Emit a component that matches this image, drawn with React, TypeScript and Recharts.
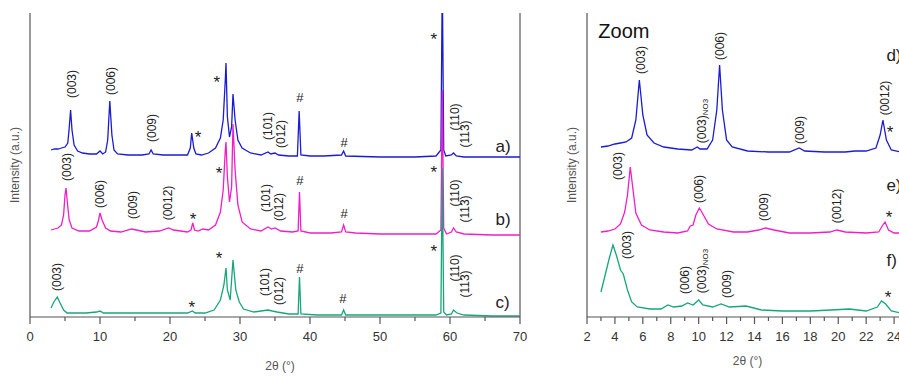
import { LineChart, Line, XAxis, YAxis, ReferenceLine, ReferenceDot } from 'recharts'

type Pt = [number, number]
type Tag = { x: number; y: number; text: string; sub?: string }

// 2θ (°) vs intensity (a.u., traces stacked by offset)
const scanA: Pt[] = [
  [3.0, 167], [3.5, 168], [4.0, 168], [4.5, 169], [5.0, 170], [5.4, 174], [5.6, 189], [5.8, 207], [6.0, 187],
  [6.3, 172], [6.8, 166], [7.5, 164], [8.5, 163], [9.5, 163], [10.0, 166], [10.4, 163], [10.8, 165], [11.1, 177],
  [11.4, 216], [11.7, 182], [12.0, 167], [12.5, 163], [14, 162], [16, 162], [17.0, 163], [17.3, 167], [17.6, 163],
  [19, 162], [21, 162], [22.5, 162], [22.9, 169], [23.1, 184], [23.4, 169], [23.7, 163], [24.5, 162], [25.5, 164],
  [26.5, 169], [27.2, 179], [27.6, 197], [27.9, 237], [28.0, 254], [28.2, 200], [28.5, 180], [28.8, 190], [29.0, 223],
  [29.3, 197], [29.7, 177], [30.3, 169], [31.5, 164], [33, 162], [34.0, 165], [34.4, 163], [35.0, 164], [35.5, 162],
  [37, 161], [38.2, 161], [38.45, 206], [38.7, 162], [40, 161], [42, 161], [44.5, 162], [44.8, 166], [45.1, 161],
  [50, 160], [55, 160], [58.0, 161], [58.7, 167], [58.9, 340], [59.1, 167], [59.4, 161], [60.2, 162], [60.5, 164],
  [60.9, 161], [62, 160], [66, 160], [70, 160],
]
const scanB: Pt[] = [
  [3.0, 87], [3.5, 88], [4.0, 89], [4.5, 92], [4.8, 102], [5.0, 122], [5.15, 129], [5.3, 117], [5.6, 97], [6.0, 89],
  [7, 86], [8.5, 86], [9.5, 90], [9.8, 97], [10.0, 104], [10.3, 97], [10.8, 89], [11.5, 86], [13, 85], [14.5, 88],
  [15.2, 87], [16.5, 85], [18.5, 86], [19.8, 89], [20.5, 87], [22.5, 85], [23.0, 87], [23.25, 94], [23.5, 87],
  [24.0, 86], [24.7, 88], [25.5, 87], [26.5, 92], [27.2, 105], [27.6, 127], [27.9, 167], [28.0, 175], [28.2, 140],
  [28.5, 115], [28.8, 130], [29.0, 193], [29.3, 147], [29.7, 112], [30.3, 95], [31.5, 88], [33, 86], [34.0, 90],
  [34.5, 88], [35.0, 89], [35.8, 86], [37.5, 85], [38.3, 86], [38.5, 125], [38.7, 86], [40, 84], [43, 84], [44.5, 85],
  [44.8, 92], [45.1, 85], [46.5, 84], [50, 83], [55, 83], [58.0, 83], [58.7, 87], [58.9, 227], [59.1, 89], [59.5, 83],
  [60.2, 85], [60.5, 89], [60.9, 85], [62, 83], [66, 82], [70, 82],
]
const scanC: Pt[] = [
  [3.0, 9], [3.4, 15], [3.9, 20], [4.3, 14], [4.8, 7], [5.3, 4], [6.5, 4], [8, 4], [9.5, 5], [10.0, 6], [10.5, 4],
  [12, 4], [15, 4], [18, 4], [20, 4], [22.5, 4], [23.2, 6], [23.6, 4], [25, 4], [26.3, 7], [27.2, 17], [27.7, 32],
  [28.0, 49], [28.2, 27], [28.6, 17], [29.0, 57], [29.4, 27], [29.9, 15], [30.5, 8], [32, 5], [34.0, 7], [34.6, 6],
  [35.3, 5], [37, 3], [38.3, 3], [38.5, 40], [38.7, 3], [41, 2], [44.5, 2], [44.8, 7], [45.1, 2], [50, 2], [55, 2],
  [58.0, 2], [58.7, 4], [58.9, 149], [59.1, 5], [59.5, 2], [60.2, 3], [60.5, 7], [61, 4], [62, 2], [66, 1], [70, 1],
]
const zoomD: Pt[] = [
  [3.0, 170], [3.5, 171], [4.0, 173], [4.4, 174], [4.8, 175], [5.2, 179], [5.5, 197], [5.75, 237], [6.0, 202],
  [6.3, 182], [6.8, 174], [7.5, 170], [8.5, 168], [9.5, 167], [9.9, 170], [10.1, 168], [10.6, 168], [11.0, 177],
  [11.3, 207], [11.5, 252], [11.7, 207], [12.0, 177], [12.4, 170], [13.5, 166], [15, 165], [16.5, 165], [17.2, 169],
  [17.6, 166], [19, 165], [20.5, 165], [21.2, 166], [22.0, 166], [22.7, 169], [23.0, 182], [23.2, 197], [23.45, 177],
  [23.8, 167], [24.5, 165], [26, 164],
]
const zoomE: Pt[] = [
  [3.0, 85], [3.5, 86], [4.0, 88], [4.4, 93], [4.7, 105], [4.9, 122], [5.1, 150], [5.3, 127], [5.5, 104], [5.9, 92],
  [6.5, 87], [7.5, 85], [8.5, 84], [9.2, 86], [9.4, 91], [9.6, 92], [9.8, 102], [10.05, 109], [10.3, 103], [10.7, 93],
  [11.3, 88], [12.5, 85], [13.5, 85], [14.3, 87], [14.8, 89], [15.4, 87], [16.5, 84], [18, 84], [19.4, 85], [19.9, 87],
  [20.5, 85], [22, 84], [22.9, 85], [23.15, 91], [23.35, 95], [23.6, 87], [24, 84], [26, 84],
]
const zoomF: Pt[] = [
  [3.0, 25], [3.3, 42], [3.6, 59], [3.86, 72], [4.1, 62], [4.4, 47], [4.6, 43], [4.9, 27], [5.2, 15], [5.6, 10],
  [6.5, 8], [7.3, 8], [7.8, 12], [8.2, 10], [8.8, 11], [9.2, 14], [9.6, 12], [10.0, 17], [10.3, 12], [11.0, 10],
  [11.6, 13], [12.2, 10], [13.4, 11], [14.5, 7], [16, 6], [18, 6], [19.5, 7], [20.8, 8], [22.0, 6], [22.8, 10],
  [23.1, 16], [23.4, 13], [23.8, 6], [24.5, 4], [26, 4],
]

const fullTicks = [0, 5, 10, 15, 20, 25, 30, 35, 40, 45, 50, 55, 60, 65, 70]
const fullTopTicks = [0, 2.5, 5, 7.5, 10, 12.5, 15, 17.5, 20, 22.5, 25, 27.5, 30, 32.5, 35, 37.5, 40, 42.5, 45, 47.5, 50, 52.5, 55, 57.5, 60, 62.5, 65, 67.5, 70]
const zoomTicks = [2, 3, 4, 5, 6, 7, 8, 9, 10, 11, 12, 13, 14, 15, 16, 17, 18, 19, 20, 21, 22, 23, 24, 25, 26]

// panel letters (a) ... f)) are given by their left edge, the rest by their centre
const fullTags: Tag[] = [
  { x: 6.0, y: 233, text: '(003)' }, { x: 11.57, y: 236, text: '(006)' }, { x: 17.43, y: 189, text: '(009)' },
  { x: 24.0, y: 184, text: '*' }, { x: 26.7, y: 239, text: '*' }, { x: 34.0, y: 191, text: '(101)' },
  { x: 35.86, y: 183, text: '(012)' }, { x: 38.57, y: 220, text: '#' }, { x: 44.86, y: 175, text: '#' },
  { x: 57.7, y: 282, text: '*' }, { x: 60.7, y: 200, text: '(110)' }, { x: 62.1, y: 183, text: '(113)' },
  { x: 66.5, y: 171, text: 'a)' },
  { x: 5.24, y: 150, text: '(003)' }, { x: 10.0, y: 123, text: '(006)' }, { x: 14.7, y: 112, text: '(009)' },
  { x: 19.7, y: 114, text: '(0012)' }, { x: 23.3, y: 102, text: '*' }, { x: 27.0, y: 148, text: '*' },
  { x: 33.7, y: 119, text: '(101)' }, { x: 35.6, y: 110, text: '(012)' }, { x: 38.57, y: 137, text: '#' },
  { x: 44.86, y: 104, text: '#' }, { x: 57.7, y: 149, text: '*' }, { x: 60.7, y: 124, text: '(110)' },
  { x: 62.1, y: 108, text: '(113)' }, { x: 66.5, y: 98, text: 'b)' },
  { x: 3.86, y: 40, text: '(003)' }, { x: 23.1, y: 14, text: '*' }, { x: 27.0, y: 63, text: '*' },
  { x: 33.6, y: 35, text: '(101)' }, { x: 35.6, y: 26, text: '(012)' }, { x: 38.57, y: 49, text: '#' },
  { x: 44.7, y: 19, text: '#' }, { x: 57.7, y: 70, text: '*' }, { x: 60.7, y: 49, text: '(110)' },
  { x: 62.1, y: 33, text: '(113)' }, { x: 66.5, y: 15, text: 'c)' },
]
const zoomTags: Tag[] = [
  { x: 2.81, y: 286, text: 'Zoom' },
  { x: 5.89, y: 257, text: '(003)' }, { x: 10.25, y: 196, text: '(003)', sub: 'NO3' }, { x: 11.55, y: 271, text: '(006)' },
  { x: 17.27, y: 187, text: '(009)' }, { x: 23.35, y: 219, text: '(0012)' }, { x: 23.71, y: 189, text: '*' },
  { x: 23.45, y: 262, text: 'd)' },
  { x: 4.24, y: 151, text: '(003)' }, { x: 10.04, y: 128, text: '(006)' }, { x: 14.7, y: 110, text: '(009)' },
  { x: 19.92, y: 111, text: '(0012)' }, { x: 23.64, y: 104, text: '*' }, { x: 23.45, y: 132, text: 'e)' },
  { x: 4.89, y: 72, text: '(003)' }, { x: 9.03, y: 37, text: '(006)' }, { x: 10.25, y: 46, text: '(003)', sub: 'NO3' },
  { x: 12.0, y: 33, text: '(009)' }, { x: 23.57, y: 24, text: '*' }, { x: 23.45, y: 57, text: 'f)' },
]

const BLUE = '#1b1bd2'
const PINK = '#ef1ec6'
const GREEN = '#17a67a'
const AXIS = '#555'
const FONT = '"Liberation Sans", Arial, sans-serif'

const rows = (pts: Pt[]) => pts.map(([x, y]) => ({ x, y }))

function TagText({ cx, cy, tag }: { cx: number; cy: number; tag: Tag }) {
  const t = tag.text
  if (t === '*') {
    return <text x={cx} y={cy + 9.5} textAnchor="middle" fontSize={17} fontFamily={FONT} fill="#222">*</text>
  }
  if (t === 'Zoom') {
    return <text x={cx} y={cy} dominantBaseline="central" fontSize={20} fontFamily={FONT} fill="#111">Zoom</text>
  }
  if (t.startsWith('(')) {
    return (
      <text x={cx} y={cy} textAnchor="middle" dominantBaseline="central" transform={`rotate(-90, ${cx}, ${cy})`}
        fontSize={12} fontFamily={FONT} fill="#222">
        {t}
        {tag.sub && <tspan fontSize={8} dy={3}>{tag.sub}</tspan>}
      </text>
    )
  }
  if (t.endsWith(')')) {
    return <text x={cx} y={cy} dominantBaseline="central" fontSize={17} fontFamily={FONT} fill="#222">{t}</text>
  }
  return (
    <text x={cx} y={cy} textAnchor="middle" dominantBaseline="central" fontSize={13} fontFamily={FONT} fill="#222">
      {t}
    </text>
  )
}

function BottomTick(props: any) {
  const { x, y, payload, every } = props
  const v = payload.value
  const major = Math.abs(v / every - Math.round(v / every)) < 1e-6
  return (
    <g>
      <line x1={x} x2={x} y1={y} y2={y + (major ? 7 : 4)} stroke={AXIS} strokeWidth={1.2} />
      {major && (
        <text x={x} y={y + 19} textAnchor="middle" dominantBaseline="central" fontSize={13} fontFamily={FONT} fill="#333">
          {v}
        </text>
      )}
    </g>
  )
}

function Panel(props: {
  width: number; yWidth: number; domain: [number, number]; ticks: number[]; topTicks: number[]; every: number
  series: Pt[][]; tags: Tag[]; border?: boolean; labelDx: number; labelDy: number
}) {
  const { width, yWidth, domain, ticks, topTicks, every, series, tags, border, labelDx, labelDy } = props
  const colors = [BLUE, PINK, GREEN]
  return (
    <LineChart width={width} height={376} margin={{ top: 13, right: 20, bottom: 0, left: 0 }}>
      <XAxis dataKey="x" type="number" domain={domain} ticks={ticks} interval={0} allowDataOverflow
        height={59} tickSize={0} tickMargin={0} tickLine={false}
        axisLine={{ stroke: AXIS, strokeWidth: 1.2 }}
        tick={(p: any) => <BottomTick {...p} every={every} />}
        label={{ value: '2θ (°)', position: 'center', dy: labelDy, dx: labelDx, fontSize: 12, fill: '#555', fontFamily: FONT }} />
      <XAxis xAxisId="top" dataKey="x" type="number" orientation="top" domain={domain} ticks={topTicks} interval={0}
        height={0} mirror tick={false} tickSize={4} allowDataOverflow
        tickLine={{ stroke: AXIS }} axisLine={{ stroke: AXIS, strokeWidth: 1.2 }} />
      <YAxis type="number" domain={[0, 304]} allowDataOverflow width={yWidth} tick={false} tickLine={false}
        axisLine={{ stroke: AXIS, strokeWidth: 1.2 }}
        label={{ value: 'Intensity (a.u.)', angle: -90, position: 'center', fontSize: 12, fill: '#555', fontFamily: FONT }} />
      {border && <ReferenceLine x={domain[1]} stroke={AXIS} strokeWidth={1.2} />}
      {series.map((s, i) => (
        <Line key={i} data={rows(s)} dataKey="y" type="linear" stroke={colors[i]} strokeWidth={1.3}
          dot={false} isAnimationActive={false} />
      ))}
      {tags.map((t, i) => (
        <ReferenceDot key={i} x={t.x} y={t.y} r={0} ifOverflow="visible"
          shape={(p: any) => <TagText cx={p.cx} cy={p.cy} tag={t} />} />
      ))}
    </LineChart>
  )
}

export default function App() {
  return (
    <div style={{ position: 'fixed', left: 0, top: 0, width: 899, height: 376, overflow: 'hidden', background: '#fff', fontFamily: FONT }}>
      <div style={{ position: 'absolute', left: 0, top: 0 }}>
        <Panel width={540} yWidth={30} domain={[0, 70]} ticks={fullTicks} topTicks={fullTopTicks} every={10}
          series={[scanA, scanB, scanC]} tags={fullTags} border labelDx={5} labelDy={19} />
      </div>
      <div style={{ position: 'absolute', left: 556, top: 0 }}>
        <Panel width={386} yWidth={31} domain={[2, 26]} ticks={zoomTicks} topTicks={zoomTicks} every={2}
          series={[zoomD, zoomE, zoomF]} tags={zoomTags} labelDx={-7} labelDy={14} />
      </div>
    </div>
  )
}
